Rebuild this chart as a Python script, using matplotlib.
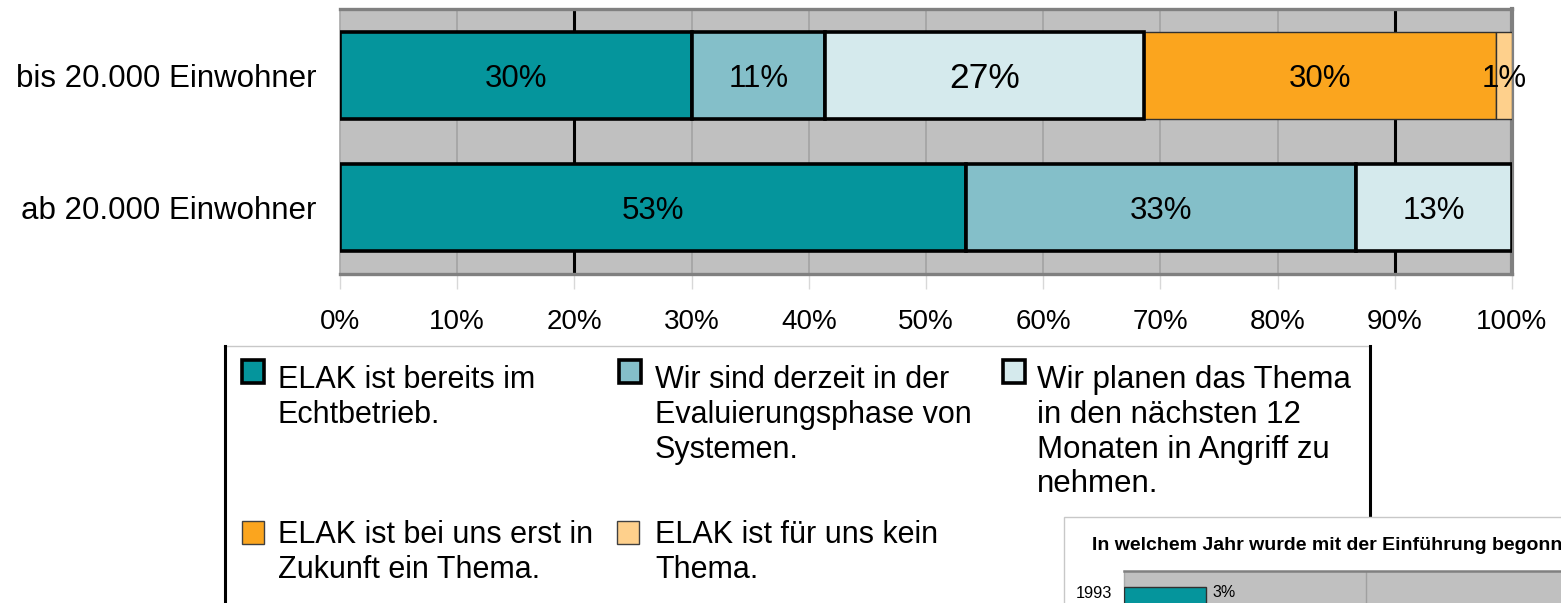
import matplotlib
matplotlib.use("Agg")
import matplotlib.pyplot as plt
from matplotlib.patches import Rectangle
from matplotlib.lines import Line2D

plt.rcParams['font.family'] = ['Liberation Sans', 'DejaVu Sans']

# ---------------- data ----------------
categories = ["bis 20.000 Einwohner", "ab 20.000 Einwohner"]
series_names = [
    "ELAK ist bereits im\nEchtbetrieb.",
    "Wir sind derzeit in der\nEvaluierungsphase von\nSystemen.",
    "Wir planen das Thema\nin den nächsten 12\nMonaten in Angriff zu\nnehmen.",
    "ELAK ist bei uns erst in\nZukunft ein Thema.",
    "ELAK ist für uns kein\nThema.",
]
echtbetrieb = [30.0, 53.4]
evaluierung = [11.4, 33.3]
planung = [27.2, 13.3]
zukunft = [30.0, 0.0]
kein_thema = [1.4, 0.0]
series_values = [echtbetrieb, evaluierung, planung, zukunft, kein_thema]
xticks = [0, 10, 20, 30, 40, 50, 60, 70, 80, 90, 100]
xtick_labels = [f"{t}%" for t in xticks]

inset_title = "In welchem Jahr wurde mit der Einführung begonnen?"
inset_years = ["1993"]
inset_values = [3.4]

colors = ['#05959C', '#84BFC9', '#D5EAED', '#FBA51E', '#FED08C']

# ---------------- figure ----------------
W, H = 1561, 603
fig = plt.figure(figsize=(W / 100, H / 100), dpi=100)
fig.patch.set_facecolor('white')


def fx(x):
    return x / W


def fy(y):
    return 1 - y / H


# main axes
ax_l, ax_r, ax_t, ax_b = 340, 1512, 9, 274
ax = fig.add_axes([fx(ax_l), fy(ax_b), (ax_r - ax_l) / W, (ax_b - ax_t) / H])
ax.set_facecolor('#C0C0C0')
ax.set_xlim(0, 100)
ax.set_ylim(1.5, -0.5)

# gridlines
for t in xticks:
    if t in (20, 90):
        ax.axvline(t, color='black', lw=2.2, zorder=1)
    elif t not in (0, 100):
        ax.axvline(t, color='#A0A0A0', lw=1.1, zorder=1)

ypos = list(range(len(categories)))
left = [0.0] * len(categories)
for si, vals in enumerate(series_values):
    for ci, v in enumerate(vals):
        if v <= 0:
            continue
        thick = si < 3
        ax.barh(ypos[ci], v, left=left[ci], height=0.66, color=colors[si],
                edgecolor='black' if thick else '#303030',
                linewidth=2.6 if thick else 1.0, zorder=4 if thick else 3,
                joinstyle='miter')
        size = 25.5 if (si == 2 and ci == 0) else 22.5
        ax.text(left[ci] + v / 2, ypos[ci], f"{round(v)}%", ha='center',
                va='center_baseline', fontsize=size, color='black', zorder=6)
    left = [l + v for l, v in zip(left, vals)]

ax.set_yticks(ypos)
ax.set_yticklabels(categories, fontsize=22.5)
ax.tick_params(axis='y', length=0, pad=17)
ax.set_xticks(xticks)
ax.set_xticklabels(xtick_labels, fontsize=20)
ax.tick_params(axis='x', length=11, width=1, color='#D8D8D8', direction='out', pad=14)

for side in ('top', 'bottom'):
    ax.spines[side].set_color('#808080')
    ax.spines[side].set_linewidth(2.4)
ax.spines['right'].set_color('#808080')
ax.spines['right'].set_linewidth(3)
ax.spines['left'].set_color('#A8A8A8')
ax.spines['left'].set_linewidth(1.2)

# ---------------- legend (manual) ----------------
fig.add_artist(Line2D([fx(224), fx(1370)], [fy(346), fy(346)], color='#C8C8C8', lw=1,
                      transform=fig.transFigure))
fig.add_artist(Line2D([fx(225), fx(225)], [fy(346), fy(603)], color='black', lw=2.2,
                      transform=fig.transFigure))
fig.add_artist(Line2D([fx(1370), fx(1370)], [fy(346), fy(517)], color='black', lw=2.2,
                      transform=fig.transFigure))

legend_slots = [
    (242, 360, 278, 365),
    (619, 360, 655, 365),
    (1003, 360, 1037, 365),
    (242, 521, 278, 520),
    (617, 521, 655, 520),
]
for si, (px, py, tx, ty) in enumerate(legend_slots):
    thick = si < 3
    pw, ph = (22, 23)
    fig.add_artist(Rectangle((fx(px), fy(py + ph)), pw / W, ph / H,
                             facecolor=colors[si],
                             edgecolor='black' if thick else '#404040',
                             linewidth=2.6 if thick else 1.0,
                             transform=fig.transFigure, zorder=5))
    fig.text(fx(tx), fy(ty), series_names[si], ha='left', va='top',
             fontsize=22.5 if si == 2 else 22,
             linespacing=1.21, color='black')

# ---------------- inset chart (cut off at the right, as in the source) ----------------
fig.add_artist(Rectangle((fx(1064), fy(700)), (1700 - 1064) / W, (700 - 517) / H,
                         facecolor='white', edgecolor='#C8C8C8', linewidth=1,
                         transform=fig.transFigure, zorder=10))
fig.text(fx(1092), fy(545), inset_title, ha='left', va='center', fontsize=14,
         fontweight='bold', color='black', zorder=11)

ax2 = fig.add_axes([fx(1124), fy(700), (2092 - 1124) / W, (700 - 571) / H], zorder=12)
ax2.set_facecolor('#C0C0C0')
ax2.set_xlim(0, 40)
ax2.set_ylim(3.12, -0.79)
for t in (10, 20, 30):
    ax2.axvline(t, color='#A0A0A0', lw=1, zorder=1)
y2 = list(range(len(inset_years)))
ax2.barh(y2, inset_values, height=0.62, color=colors[0], edgecolor='#303030',
         linewidth=1, zorder=3)
for yy, v in zip(y2, inset_values):
    ax2.text(v + 0.25, yy - 0.15, f"{round(v)}%", ha='left', va='center', fontsize=11.5)
ax2.set_yticks([y - 0.15 for y in y2])
ax2.set_yticklabels(inset_years, fontsize=11.8)
ax2.tick_params(axis='y', length=0, pad=8.5)
ax2.set_xticks([])
ax2.spines['top'].set_color('#808080')
ax2.spines['top'].set_linewidth(1.8)
ax2.spines['left'].set_color('#A8A8A8')
ax2.spines['left'].set_linewidth(1)
ax2.spines['right'].set_visible(False)
ax2.spines['bottom'].set_visible(False)

fig.savefig('out.png', dpi=100)
